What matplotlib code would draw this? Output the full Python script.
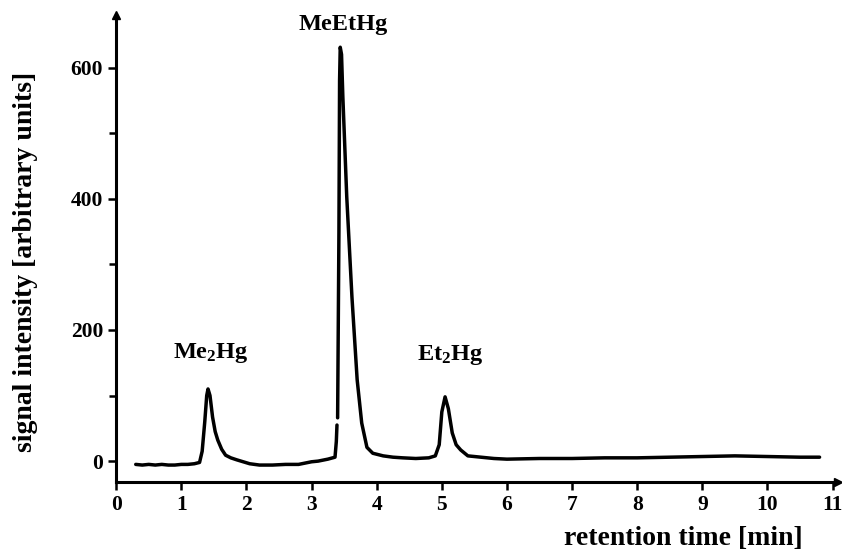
import matplotlib.pyplot as plt
import numpy as np

plt.rcParams["font.family"] = ["Liberation Serif", "DejaVu Serif"]
plt.rcParams["font.weight"] = "bold"

# chromatogram trace: retention time [min] and signal (NaN = pen gap)
time = np.array([
    0.30, 0.40, 0.50, 0.60, 0.70, 0.80, 0.90, 1.00, 1.10, 1.20, 1.28,
    1.32, 1.36, 1.39, 1.41, 1.44, 1.48, 1.52, 1.56, 1.62, 1.68, 1.76,
    1.85, 1.95, 2.05, 2.20, 2.40, 2.60, 2.80, 3.00, 3.10, 3.25, 3.36,
    3.38, 3.39, 3.395, 3.40, 3.42, 3.43, 3.44, 3.46, 3.48, 3.54, 3.62,
    3.70, 3.77, 3.85, 3.94, 4.10, 4.25, 4.40, 4.60, 4.80, 4.90, 4.96,
    5.00, 5.05, 5.10, 5.16, 5.22, 5.29, 5.40, 5.60, 5.80, 6.00, 6.50,
    7.00, 7.50, 8.00, 8.50, 9.00, 9.50, 10.00, 10.50, 10.80,
])
signal = np.array([
    -5, -6, -5, -6, -5, -6, -6, -5, -5, -4, -2,
    15, 60, 100, 110, 100, 67, 45, 32, 18, 9, 5,
    2, -1, -4, -6, -6, -5, -5, -1, 0, 3, 6,
    30, 55, np.nan, 66, 350, 580, 631, 620, 556, 403, 250,
    124, 58, 21, 12, 8, 6, 5, 4, 5, 8, 25,
    75, 98, 80, 43, 25, 17, 8, 6, 4, 3, 4,
    4, 5, 5, 6, 7, 8, 7, 6, 6,
])

peak_names = ["Me$\\mathregular{_2}$Hg", "MeEtHg", "Et$\\mathregular{_2}$Hg"]
peak_label_x = [1.45, 3.48, 5.12]
peak_label_y = [165, 665, 162]

x_ticks = np.arange(0, 12)
y_ticks = [0, 200, 400, 600]
y_minor = [100, 300, 500]

fig = plt.figure(figsize=(8.42, 5.58), dpi=100)
ax = fig.add_axes([0.138, 0.136, 0.857, 0.837])

ax.plot(time, signal, color="black", lw=2.5, solid_joinstyle="round",
        solid_capstyle="round")

for name, lx, ly in zip(peak_names, peak_label_x, peak_label_y):
    ax.text(lx, ly, name, ha="center", va="center", fontsize=17.5,
            fontweight="bold")

ax.set_xlim(0, 11.08)
ax.set_ylim(-32, 680)
ax.set_xticks(x_ticks)
ax.set_yticks(y_ticks)
ax.set_yticks(y_minor, minor=True)

for side in ["top", "right"]:
    ax.spines[side].set_visible(False)
for side in ["left", "bottom"]:
    ax.spines[side].set_linewidth(2.2)

ax.tick_params(axis="both", which="both", direction="out", width=1.8,
               labelsize=15.5)
ax.tick_params(axis="both", which="major", length=6)
ax.tick_params(axis="y", which="minor", length=5)
for lab in ax.get_xticklabels() + ax.get_yticklabels():
    lab.set_fontweight("bold")

# arrow heads at the end of both axes
ax.plot(1, -32, ">k", ms=6, transform=ax.get_yaxis_transform(), clip_on=False)
ax.plot(0, 1, "^k", ms=6, transform=ax.get_xaxis_transform(), clip_on=False)

fig.text(0.03, 0.53, "signal intensity [arbitrary units]", rotation=90,
         ha="center", va="center", fontsize=20, fontweight="bold")
fig.text(0.953, 0.012, "retention time [min]", ha="right", va="bottom",
         fontsize=20, fontweight="bold")

fig.savefig("out.png", dpi=100)
